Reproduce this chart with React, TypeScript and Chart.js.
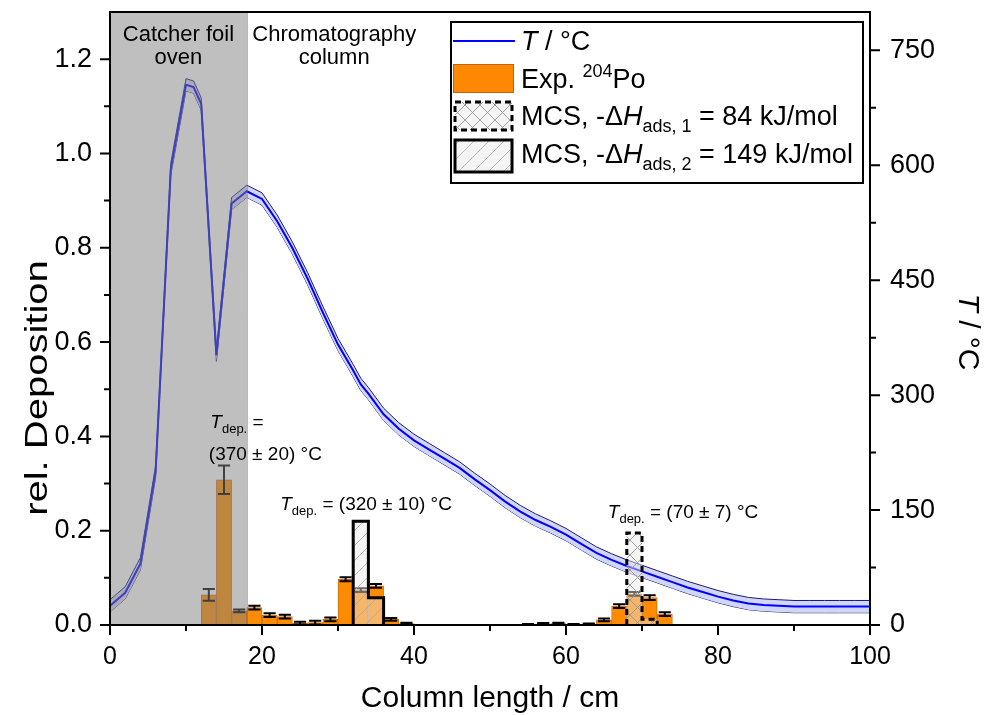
import React, { useEffect, useRef } from "react";
import { Chart, registerables } from "chart.js";

Chart.register(...registerables);

const FONT = '"Liberation Sans", Arial, Helvetica, sans-serif';

// Experimental 204Po deposition in 2 cm bins (bin centres, cm)
const binCenters = [13, 15, 17, 19, 21, 23, 25, 27, 29, 31, 33, 35, 37, 39, 41, 43, 45, 47, 49, 51, 53, 55, 57, 59, 61, 63, 65, 67, 69, 71, 73];
const expDeposition = [0.064, 0.308, 0.030, 0.037, 0.021, 0.018, 0.004, 0.005, 0.012, 0.097, 0.074, 0.083, 0.012, 0.003, 0, 0, 0, 0, 0, 0, 0, 0.001, 0.002, 0.003, 0.001, 0.002, 0.011, 0.040, 0.066, 0.058, 0.023];
const expError = [0.0125, 0.03, 0.003, 0.004, 0.004, 0.004, 0.003, 0.004, 0.004, 0.004, 0.004, 0.004, 0.003, 0.002, 0, 0, 0, 0, 0, 0, 0, 0.001, 0.002, 0.002, 0.001, 0.001, 0.003, 0.004, 0.004, 0.005, 0.004];

// Monte Carlo simulations
const mcs1Centers = [69, 71];
const mcs1Deposition = [0.195, 0.012];
const mcs2Centers = [33, 35];
const mcs2Deposition = [0.22, 0.058];

// Temperature profile
const tPosition = [0, 2, 4, 6, 8, 9, 10, 11, 12, 14, 16, 18, 20, 22, 24, 26, 28, 30, 32, 33, 34, 36, 38, 40, 42, 44, 46, 48, 50, 52, 54, 56, 58, 60, 62, 64, 66, 68, 70, 72, 74, 76, 78, 80, 82, 84, 86, 88, 90, 92, 94, 96, 98, 100];
const tValue = [25, 42, 80, 200, 595, 650, 705, 702, 680, 352, 550, 566, 556, 527, 492, 452, 408, 366, 332, 314, 302, 275, 256, 241, 229, 217, 205, 190, 176, 161, 148, 137, 128, 118, 106, 94, 85, 77, 70, 63, 56, 49, 43, 37, 32, 28, 26, 25, 24, 24, 24, 24, 24, 24];
const tUncertainty = [8, 8, 8, 8, 8, 8, 8, 8, 8, 8, 8, 8, 8, 8, 8, 8, 8, 8, 8, 8, 8, 8, 8, 8, 8, 8, 8, 8, 8, 8, 8, 8, 8, 8, 8, 8, 8, 8, 8, 8, 8, 8, 8, 8, 8, 8, 8, 8, 8, 8, 8, 8, 8, 8];

const ovenRange = [0, 18];

const xMajorTicks = [0, 20, 40, 60, 80, 100];
const xMinorTicks = [10, 30, 50, 70, 90];
const depMajorTicks = [0, 0.2, 0.4, 0.6, 0.8, 1.0, 1.2];
const depMinorTicks = [0.1, 0.3, 0.5, 0.7, 0.9, 1.1];
const tMajorTicks = [0, 150, 300, 450, 600, 750];
const tMinorTicks = [75, 225, 375, 525, 675];

type Seg = { t: string; size: number; italic?: boolean; dy?: number };

function segWidth(ctx: CanvasRenderingContext2D, segs: Seg[]) {
  let w = 0;
  for (const s of segs) {
    ctx.font = `${s.italic ? "italic " : ""}${s.size}px ${FONT}`;
    w += ctx.measureText(s.t).width;
  }
  return w;
}

function drawSegs(ctx: CanvasRenderingContext2D, segs: Seg[], x: number, y: number) {
  let cx = x;
  ctx.textAlign = "left";
  ctx.textBaseline = "alphabetic";
  for (const s of segs) {
    ctx.font = `${s.italic ? "italic " : ""}${s.size}px ${FONT}`;
    ctx.fillText(s.t, cx, y + (s.dy || 0));
    cx += ctx.measureText(s.t).width;
  }
}

function makePattern(ctx: CanvasRenderingContext2D, kind: "cross" | "diag") {
  const c = document.createElement("canvas");
  const n = 15;
  c.width = n;
  c.height = n;
  const g = c.getContext("2d")!;
  g.fillStyle = "rgba(232,232,232,0.45)";
  g.fillRect(0, 0, n, n);
  g.strokeStyle = kind === "cross" ? "rgba(150,150,150,0.9)" : "rgba(170,170,170,0.8)";
  g.lineWidth = 1;
  g.beginPath();
  if (kind === "cross") {
    g.moveTo(0, 0);
    g.lineTo(n, n);
    g.moveTo(n, 0);
    g.lineTo(0, n);
  } else {
    g.moveTo(0, n);
    g.lineTo(n, 0);
    g.moveTo(-2, 2);
    g.lineTo(2, -2);
    g.moveTo(n - 2, n + 2);
    g.lineTo(n + 2, n - 2);
  }
  g.stroke();
  return ctx.createPattern(c, "repeat")!;
}

const noPad = (s: any) => {
  s.paddingTop = 0;
  s.paddingBottom = 0;
  s.paddingLeft = 0;
  s.paddingRight = 0;
};

export default function App() {
  const ref = useRef<HTMLCanvasElement>(null);

  useEffect(() => {
    document.body.style.margin = "0";
    const canvas = ref.current!;
    const c2d = canvas.getContext("2d")!;
    const crossPattern = makePattern(c2d, "cross");
    const diagPattern = makePattern(c2d, "diag");

    const yTickFont = { family: FONT, size: 27, lineHeight: 0.9 };

    const decor = {
      id: "decor",
      afterDatasetDraw(chart: any, args: any) {
        const ds = chart.data.datasets[args.index];
        const ctx: CanvasRenderingContext2D = chart.ctx;
        const yS = chart.scales.y;
        const meta = args.meta;
        if (ds.role === "exp") {
          ctx.save();
          ctx.strokeStyle = "#000";
          ctx.lineWidth = 2;
          meta.data.forEach((el: any, i: number) => {
            const v = expDeposition[i];
            const e = expError[i];
            if (!v) return;
            const { x, width } = el.getProps(["x", "width"], true);
            const yt = yS.getPixelForValue(v + e);
            const yb = yS.getPixelForValue(Math.max(0, v - e));
            const hw = width * 0.4;
            ctx.beginPath();
            ctx.moveTo(x, yt);
            ctx.lineTo(x, yb);
            ctx.moveTo(x - hw, yt);
            ctx.lineTo(x + hw, yt);
            ctx.moveTo(x - hw, yb);
            ctx.lineTo(x + hw, yb);
            ctx.stroke();
          });
          ctx.restore();
        }
        if (ds.role === "mcs1" || ds.role === "mcs2") {
          const base = yS.getPixelForValue(0);
          ctx.save();
          ctx.strokeStyle = "#000";
          ctx.lineWidth = 3;
          ctx.lineJoin = "miter";
          if (ds.role === "mcs1") ctx.setLineDash([6, 4]);
          ctx.beginPath();
          const els = meta.data;
          els.forEach((el: any, i: number) => {
            const { x, y, width } = el.getProps(["x", "y", "width"], true);
            const l = x - width / 2;
            const r = x + width / 2;
            if (i === 0) ctx.moveTo(l, base);
            ctx.lineTo(l, y);
            ctx.lineTo(r, y);
            if (i === els.length - 1) ctx.lineTo(r, base);
          });
          ctx.stroke();
          ctx.restore();
        }
      },
      afterDatasetsDraw(chart: any) {
        const ctx: CanvasRenderingContext2D = chart.ctx;
        const a = chart.chartArea;
        const xS = chart.scales.x;
        const x0 = xS.getPixelForValue(ovenRange[0]);
        const x1 = xS.getPixelForValue(ovenRange[1]);
        ctx.save();
        ctx.fillStyle = "rgba(128,128,128,0.5)";
        ctx.fillRect(x0, a.top, x1 - x0, a.bottom - a.top);
        ctx.strokeStyle = "rgba(110,110,110,0.6)";
        ctx.lineWidth = 1;
        ctx.beginPath();
        ctx.moveTo(x1 + 0.5, a.top);
        ctx.lineTo(x1 + 0.5, a.bottom);
        ctx.stroke();
        ctx.restore();
      },
      afterDraw(chart: any) {
        const ctx: CanvasRenderingContext2D = chart.ctx;
        const a = chart.chartArea;
        const xS = chart.scales.x;
        const yS = chart.scales.y;
        const y2S = chart.scales.y2;
        ctx.save();
        // frame
        ctx.strokeStyle = "#000";
        ctx.lineWidth = 2;
        ctx.strokeRect(a.left, a.top, a.right - a.left, a.bottom - a.top);
        // tick marks
        ctx.beginPath();
        xMajorTicks.forEach((v) => {
          const p = xS.getPixelForValue(v);
          ctx.moveTo(p, a.bottom);
          ctx.lineTo(p, a.bottom + 10);
        });
        xMinorTicks.forEach((v) => {
          const p = xS.getPixelForValue(v);
          ctx.moveTo(p, a.bottom);
          ctx.lineTo(p, a.bottom + 6);
        });
        depMajorTicks.forEach((v) => {
          const p = yS.getPixelForValue(v);
          ctx.moveTo(a.left, p);
          ctx.lineTo(a.left - 10, p);
        });
        depMinorTicks.forEach((v) => {
          const p = yS.getPixelForValue(v);
          ctx.moveTo(a.left, p);
          ctx.lineTo(a.left - 6, p);
        });
        tMajorTicks.forEach((v) => {
          const p = y2S.getPixelForValue(v);
          ctx.moveTo(a.right, p);
          ctx.lineTo(a.right + 10, p);
        });
        tMinorTicks.forEach((v) => {
          const p = y2S.getPixelForValue(v);
          ctx.moveTo(a.right, p);
          ctx.lineTo(a.right + 6, p);
        });
        ctx.stroke();

        ctx.fillStyle = "#000";
        // axis titles
        ctx.font = `30px ${FONT}`;
        ctx.textAlign = "center";
        ctx.textBaseline = "alphabetic";
        ctx.fillText("Column length / cm", (a.left + a.right) / 2, a.bottom + 82);

        ctx.save();
        ctx.translate(a.left - 63, 388);
        ctx.rotate(-Math.PI / 2);
        ctx.scale(1.25, 1);
        ctx.font = `32px ${FONT}`;
        ctx.textAlign = "center";
        ctx.fillText("rel. Deposition", 0, 0);
        ctx.restore();

        ctx.save();
        ctx.translate(a.right + 89, 332);
        ctx.rotate(Math.PI / 2);
        const tTitle: Seg[] = [
          { t: "T", size: 30, italic: true },
          { t: " / °C", size: 30 },
        ];
        drawSegs(ctx, tTitle, -segWidth(ctx, tTitle) / 2, 0);
        ctx.restore();

        // region labels
        ctx.font = `22px ${FONT}`;
        ctx.textAlign = "center";
        const cx1 = xS.getPixelForValue(9);
        const cx2 = xS.getPixelForValue(29.5);
        ctx.fillText("Catcher foil", cx1, yS.getPixelForValue(1.238));
        ctx.fillText("oven", cx1, yS.getPixelForValue(1.19));
        ctx.fillText("Chromatography", cx2, yS.getPixelForValue(1.238));
        ctx.fillText("column", cx2, yS.getPixelForValue(1.19));

        // deposition temperature labels
        const tdep: Seg[] = [
          { t: "T", size: 19, italic: true },
          { t: "dep.", size: 13, dy: 5 },
        ];
        drawSegs(ctx, tdep.concat([{ t: " =", size: 19 }]), xS.getPixelForValue(13.2), yS.getPixelForValue(0.418));
        drawSegs(ctx, [{ t: "(370 ± 20) °C", size: 19 }], xS.getPixelForValue(13.0), yS.getPixelForValue(0.35));
        drawSegs(ctx, tdep.concat([{ t: " = (320 ± 10) °C", size: 19 }]), xS.getPixelForValue(22.4), yS.getPixelForValue(0.244));
        drawSegs(ctx, tdep.concat([{ t: " = (70 ± 7) °C", size: 19 }]), xS.getPixelForValue(65.5), yS.getPixelForValue(0.227));

        // legend
        const lx = a.right - 419;
        const ly = a.top + 10;
        const lw = 412;
        const lh = 161;
        ctx.fillStyle = "#fff";
        ctx.fillRect(lx, ly, lw, lh);
        ctx.strokeStyle = "#000";
        ctx.lineWidth = 2;
        ctx.strokeRect(lx, ly, lw, lh);

        ctx.strokeStyle = "#0000ff";
        ctx.lineWidth = 2;
        ctx.beginPath();
        ctx.moveTo(lx + 2, ly + 19);
        ctx.lineTo(lx + 64, ly + 19);
        ctx.stroke();

        ctx.fillStyle = "#ff8800";
        ctx.fillRect(lx + 2, ly + 42, 61, 29);
        ctx.strokeStyle = "rgba(190,100,20,1)";
        ctx.lineWidth = 1;
        ctx.strokeRect(lx + 2.5, ly + 42.5, 60, 28);

        ctx.fillStyle = "#fff";
        ctx.fillRect(lx + 4, ly + 80, 57, 28);
        ctx.fillStyle = crossPattern;
        ctx.fillRect(lx + 4, ly + 80, 57, 28);
        ctx.strokeStyle = "#000";
        ctx.lineWidth = 3;
        ctx.setLineDash([6, 4]);
        ctx.strokeRect(lx + 4, ly + 80, 57, 28);
        ctx.setLineDash([]);

        ctx.fillStyle = "#fff";
        ctx.fillRect(lx + 4, ly + 118, 57, 32);
        ctx.fillStyle = diagPattern;
        ctx.fillRect(lx + 4, ly + 118, 57, 32);
        ctx.strokeRect(lx + 4, ly + 118, 57, 32);

        ctx.fillStyle = "#000";
        const tx = lx + 70;
        drawSegs(ctx, [{ t: "T", size: 27, italic: true }, { t: " / °C", size: 27 }], tx, ly + 28);
        drawSegs(ctx, [{ t: "Exp. ", size: 27 }, { t: "204", size: 18, dy: -11 }, { t: "Po", size: 27 }], tx, ly + 66);
        drawSegs(ctx, [
          { t: "MCS, -Δ", size: 27 },
          { t: "H", size: 27, italic: true },
          { t: "ads, 1", size: 18, dy: 7 },
          { t: " = 84 kJ/mol", size: 27 },
        ], tx, ly + 103);
        drawSegs(ctx, [
          { t: "MCS, -Δ", size: 27 },
          { t: "H", size: 27, italic: true },
          { t: "ads, 2", size: 18, dy: 7 },
          { t: " = 149 kJ/mol", size: 27 },
        ], tx, ly + 141);
        ctx.restore();
      },
    };

    const tPoints = tPosition.map((x, i) => ({ x, y: tValue[i] }));
    const tUpper = tPosition.map((x, i) => ({ x, y: tValue[i] + tUncertainty[i] }));
    const tLower = tPosition.map((x, i) => ({ x, y: tValue[i] - tUncertainty[i] }));

    const chart = new Chart(canvas, {
      type: "bar",
      data: {
        datasets: [
          {
            type: "line",
            role: "tupper",
            data: tUpper,
            yAxisID: "y2",
            borderColor: "rgb(25,25,120)",
            borderWidth: 1,
            pointRadius: 0,
            fill: "+1",
            backgroundColor: "rgba(210,214,246,1)",
            order: 8,
          } as any,
          {
            type: "line",
            role: "tlower",
            data: tLower,
            yAxisID: "y2",
            borderColor: "rgb(25,25,120)",
            borderWidth: 1,
            pointRadius: 0,
            fill: false,
            order: 9,
          } as any,
          {
            type: "line",
            role: "t",
            data: tPoints,
            yAxisID: "y2",
            borderColor: "#0000ff",
            borderWidth: 2,
            pointRadius: 0,
            fill: false,
            order: 7,
          } as any,
          {
            type: "bar",
            role: "exp",
            data: binCenters.map((x, i) => ({ x, y: expDeposition[i] })),
            yAxisID: "y",
            backgroundColor: "#ff8c00",
            borderColor: "rgba(200,110,25,1)",
            borderWidth: 1,
            barPercentage: 1,
            categoryPercentage: 1,
            grouped: false,
            order: 5,
          } as any,
          {
            type: "bar",
            role: "mcs2",
            data: mcs2Centers.map((x, i) => ({ x, y: mcs2Deposition[i] })),
            yAxisID: "y",
            backgroundColor: diagPattern,
            borderWidth: 0,
            barPercentage: 1,
            categoryPercentage: 1,
            grouped: false,
            order: 3,
          } as any,
          {
            type: "bar",
            role: "mcs1",
            data: mcs1Centers.map((x, i) => ({ x, y: mcs1Deposition[i] })),
            yAxisID: "y",
            backgroundColor: crossPattern,
            borderWidth: 0,
            barPercentage: 1,
            categoryPercentage: 1,
            grouped: false,
            order: 2,
          } as any,
        ],
      },
      options: {
        animation: false,
        responsive: false,
        devicePixelRatio: 1,
        layout: { padding: { top: 12, left: 0, right: 0, bottom: 0 } },
        plugins: {
          legend: { display: false },
          tooltip: { enabled: false },
        },
        scales: {
          x: {
            type: "linear",
            position: "bottom",
            offset: false,
            min: 0,
            max: 100,
            grid: { display: false, drawTicks: false, offset: false },
            border: { display: false },
            afterBuildTicks: (s: any) => {
              s.ticks = xMajorTicks.map((v) => ({ value: v }));
            },
            afterFit: (s: any) => {
              s.height = 90;
              noPad(s);
            },
            ticks: {
              font: { family: FONT, size: 25 },
              color: "#000",
              padding: 17,
              maxRotation: 0,
              autoSkip: false,
              callback: (v: any) => String(v),
            },
          },
          y: {
            type: "linear",
            position: "left",
            min: 0,
            max: 1.3,
            grid: { display: false, drawTicks: false },
            border: { display: false },
            afterBuildTicks: (s: any) => {
              s.ticks = depMajorTicks.map((v) => ({ value: v }));
            },
            afterFit: (s: any) => {
              s.width = 110;
              noPad(s);
            },
            ticks: {
              font: yTickFont,
              color: "#000",
              padding: 18,
              autoSkip: false,
              callback: (v: any) => Number(v).toFixed(1),
            },
          },
          y2: {
            type: "linear",
            position: "right",
            min: 0,
            max: 800,
            grid: { display: false, drawTicks: false },
            border: { display: false },
            afterBuildTicks: (s: any) => {
              s.ticks = tMajorTicks.map((v) => ({ value: v }));
            },
            afterFit: (s: any) => {
              s.width = 117;
              noPad(s);
            },
            ticks: {
              font: yTickFont,
              color: "#000",
              padding: 20,
              autoSkip: false,
              callback: (v: any) => String(v),
            },
          },
        },
      } as any,
      plugins: [decor as any],
    });

    return () => chart.destroy();
  }, []);

  return (
    <div style={{ width: 987, height: 715 }}>
      <canvas ref={ref} width={987} height={715} style={{ display: "block" }} />
    </div>
  );
}
